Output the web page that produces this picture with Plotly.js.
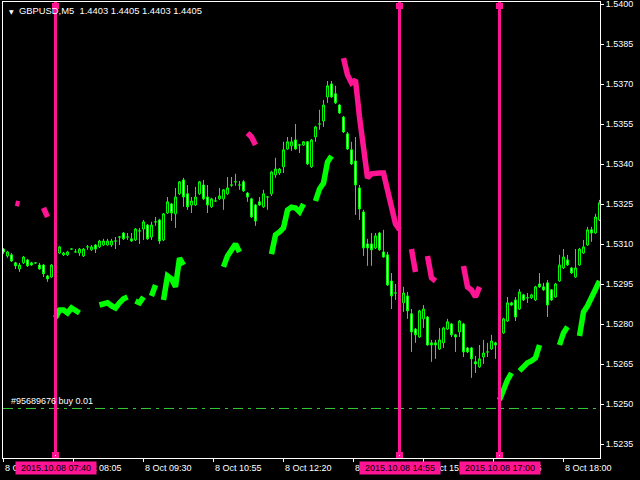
<!DOCTYPE html>
<html>
<head>
<meta charset="utf-8">
<script src="https://cdn.plot.ly/plotly-3.0.1.min.js"></script>
<style>html,body{margin:0;padding:0;background:#000;}#chart{width:640px;height:480px;}</style>
</head>
<body>
<div id="chart"></div>
<script>
// ---- GBPUSD M5, 8 Oct 2015, bar-indexed (one bar = 5 minutes) ----
const openP = [1.53082,1.53056,1.53060,1.53030,1.53007,1.53030,1.53041,1.53030,1.53030,1.53022,
1.53022,1.52981,1.52977,1.53022,1.53067,1.53060,1.53060,1.53082,1.53071,1.53067,
1.53056,1.53090,1.53079,1.53097,1.53090,1.53097,1.53097,1.53097,1.53112,1.53127,
1.53142,1.53127,1.53120,1.53116,1.53150,1.53157,1.53172,1.53127,1.53184,1.53191,
1.53116,1.53217,1.53251,1.53214,1.53289,1.53341,1.53289,1.53247,1.53247,1.53289,
1.53322,1.53277,1.53240,1.53262,1.53270,1.53270,1.53289,1.53322,1.53334,1.53322,
1.53334,1.53292,1.53270,1.53247,1.53259,1.53240,1.53277,1.53289,1.53360,1.53367,
1.53390,1.53457,1.53469,1.53491,1.53472,1.53472,1.53484,1.53390,1.53502,1.53551,
1.53562,1.53652,1.53701,1.53664,1.53622,1.53577,1.53514,1.53454,1.53412,1.53311,
1.53221,1.53101,1.53101,1.53086,1.53142,1.53071,1.53060,1.52962,1.52917,1.52917,
1.52880,1.52906,1.52839,1.52782,1.52752,1.52820,1.52827,1.52730,1.52730,1.52707,
1.52730,1.52782,1.52801,1.52760,1.52771,1.52801,1.52711,1.52711,1.52659,1.52640,
1.52677,1.52696,1.52707,1.52730,1.52722,1.52767,1.52812,1.52880,1.52891,1.52857,
1.52910,1.52899,1.52899,1.52891,1.52951,1.52940,1.52955,1.52929,1.52902,1.52962,
1.53011,1.53041,1.53011,1.52977,1.53022,1.53067,1.53097,1.53154,1.53142,1.53191];
const highP = [1.53086,1.53075,1.53067,1.53034,1.53030,1.53056,1.53045,1.53034,1.53031,1.53030,
1.53026,1.52985,1.53026,1.53086,1.53094,1.53071,1.53075,1.53083,1.53082,1.53086,
1.53086,1.53097,1.53097,1.53101,1.53116,1.53120,1.53120,1.53120,1.53127,1.53131,
1.53146,1.53142,1.53142,1.53161,1.53161,1.53191,1.53176,1.53184,1.53202,1.53195,
1.53217,1.53277,1.53255,1.53311,1.53337,1.53349,1.53322,1.53277,1.53315,1.53337,
1.53341,1.53322,1.53274,1.53277,1.53311,1.53307,1.53352,1.53352,1.53364,1.53337,
1.53341,1.53296,1.53274,1.53251,1.53277,1.53304,1.53281,1.53375,1.53424,1.53386,
1.53484,1.53502,1.53502,1.53551,1.53476,1.53487,1.53487,1.53495,1.53544,1.53604,
1.53641,1.53712,1.53712,1.53694,1.53626,1.53581,1.53521,1.53484,1.53502,1.53322,
1.53229,1.53120,1.53142,1.53142,1.53146,1.53154,1.53071,1.52992,1.52951,1.52936,
1.52940,1.52921,1.52857,1.52786,1.52854,1.52872,1.52831,1.52741,1.52741,1.52786,
1.52790,1.52820,1.52805,1.52764,1.52816,1.52805,1.52715,1.52715,1.52681,1.52722,
1.52741,1.52730,1.52760,1.52734,1.52786,1.52824,1.52902,1.52884,1.52902,1.52932,
1.52914,1.52917,1.52914,1.52944,1.52992,1.52955,1.52966,1.52932,1.52955,1.53060,
1.53082,1.53060,1.53015,1.53082,1.53086,1.53116,1.53165,1.53165,1.53214,1.53266];
const lowP = [1.53064,1.53049,1.53034,1.53007,1.52996,1.53026,1.53015,1.53019,1.53026,1.53005,
1.52977,1.52959,1.52974,1.53019,1.53064,1.53056,1.53056,1.53079,1.53070,1.53056,
1.53052,1.53079,1.53075,1.53067,1.53086,1.53094,1.53095,1.53090,1.53082,1.53097,
1.53116,1.53116,1.53109,1.53112,1.53101,1.53116,1.53116,1.53116,1.53169,1.53101,
1.53112,1.53214,1.53187,1.53161,1.53285,1.53240,1.53229,1.53217,1.53244,1.53285,
1.53266,1.53217,1.53236,1.53259,1.53266,1.53229,1.53285,1.53315,1.53319,1.53304,
1.53296,1.53259,1.53199,1.53169,1.53244,1.53236,1.53229,1.53281,1.53349,1.53360,
1.53367,1.53454,1.53450,1.53454,1.53442,1.53469,1.53397,1.53386,1.53484,1.53529,
1.53540,1.53630,1.53649,1.53626,1.53589,1.53517,1.53454,1.53397,1.53210,1.53191,
1.53056,1.53019,1.53019,1.53082,1.53075,1.53049,1.52944,1.52857,1.52891,1.52884,
1.52846,1.52820,1.52696,1.52730,1.52749,1.52786,1.52719,1.52659,1.52670,1.52704,
1.52711,1.52779,1.52752,1.52696,1.52752,1.52677,1.52692,1.52599,1.52617,1.52636,
1.52651,1.52677,1.52704,1.52670,1.52715,1.52764,1.52809,1.52869,1.52812,1.52854,
1.52887,1.52880,1.52895,1.52887,1.52936,1.52925,1.52827,1.52887,1.52899,1.52959,
1.53007,1.53019,1.52989,1.52974,1.53019,1.53064,1.53094,1.53109,1.53139,1.53187];
const closeP = [1.53071,1.53071,1.53037,1.53019,1.53022,1.53052,1.53019,1.53022,1.53030,1.53007,
1.52989,1.52970,1.53022,1.53079,1.53090,1.53067,1.53071,1.53082,1.53071,1.53082,
1.53082,1.53090,1.53090,1.53082,1.53112,1.53112,1.53112,1.53112,1.53112,1.53127,
1.53120,1.53127,1.53112,1.53157,1.53150,1.53184,1.53120,1.53172,1.53184,1.53112,
1.53214,1.53259,1.53217,1.53277,1.53334,1.53277,1.53240,1.53262,1.53277,1.53334,
1.53270,1.53247,1.53270,1.53262,1.53281,1.53304,1.53311,1.53322,1.53334,1.53322,
1.53300,1.53277,1.53202,1.53187,1.53247,1.53289,1.53277,1.53371,1.53382,1.53382,
1.53454,1.53484,1.53484,1.53457,1.53472,1.53484,1.53401,1.53491,1.53540,1.53551,
1.53622,1.53694,1.53652,1.53630,1.53592,1.53521,1.53457,1.53401,1.53322,1.53232,
1.53086,1.53086,1.53079,1.53131,1.53079,1.53052,1.52947,1.52906,1.52917,1.52899,
1.52917,1.52850,1.52771,1.52760,1.52850,1.52857,1.52722,1.52722,1.52722,1.52741,
1.52786,1.52809,1.52760,1.52752,1.52812,1.52696,1.52696,1.52670,1.52651,1.52670,
1.52692,1.52696,1.52737,1.52722,1.52779,1.52820,1.52880,1.52872,1.52827,1.52921,
1.52891,1.52899,1.52910,1.52940,1.52940,1.52929,1.52872,1.52891,1.52951,1.53022,
1.53052,1.53022,1.52992,1.53011,1.53082,1.53090,1.53154,1.53142,1.53202,1.53255];

// indicator buffers (gaps = null)
const greenBars = [13,14,15,16,17,18,19,null,24,25,26,27,28,29,30,31,null,33,34,35,null,37,38,null,
40,41,42,43,44,45,null,55,56,57,58,59,null,67,68,69,70,71,72,73,74,75,null,78,79,80,81,82,null,
124,125,126,127,null,129,130,131,132,133,134,null,139,140,141,null,144,145,146,147,148,149];
const greenVals = [1.52824,1.52853,1.52853,1.52842,1.52861,1.52853,1.52842,null,
1.52872,1.52876,1.52880,1.52869,1.52861,1.52880,1.52895,1.52902,null,
1.52887,1.52880,1.52902,null,1.52906,1.52947,null,
1.52891,1.52981,1.52970,1.52940,1.53048,1.53022,null,
1.53015,1.53056,1.53078,1.53101,1.53071,null,
1.53063,1.53135,1.53146,1.53161,1.53228,1.53239,1.53236,1.53221,1.53251,null,
1.53262,1.53307,1.53329,1.53408,1.53431,null,
1.52516,1.52557,1.52591,1.52617,null,
1.52625,1.52640,1.52655,1.52662,1.52674,1.52722,null,
1.52722,1.52767,1.52790,null,
1.52756,1.52846,1.52869,1.52899,1.52932,1.52962];
const pinkBars = [3,4,null,10,11,null,61,62,63,null,
85,86,87,88,89,90,91,92,93,94,95,96,97,98,99,null,102,103,null,106,107,108,null,115,116,117,118,119];
const pinkVals = [1.53254,1.53251,null,1.53236,1.53202,null,1.53517,1.53502,1.53472,null,
1.53798,1.53735,1.53705,1.53716,1.53577,1.53446,1.53349,1.53364,1.53367,1.53367,1.53367,1.53304,1.53228,1.53176,1.53154,null,
1.53082,1.52996,null,1.53056,1.52974,1.52962,null,
1.53018,1.52940,1.52928,1.52902,1.52940];

// objects on chart
const eventBars = [13, 99, 124];
const eventLabels = ['2015.10.08 07:40', '2015.10.08 14:55', '2015.10.08 17:00'];
const orderLevel = 1.52484;
const orderLabel = '#95689676 buy 0.01';

// axes
const timeTickBars = [0, 17.5, 35, 52.5, 70, 87.5, 105, 122.5, 140];
const timeTickLabels = ['8 Oct 06:35','8 Oct 08:05','8 Oct 09:30','8 Oct 10:55','8 Oct 12:20',
                        '8 Oct 13:45','8 Oct 15:10','8 Oct 16:35','8 Oct 18:00'];
const priceTicks = [1.5235,1.5250,1.5265,1.5280,1.5295,1.5310,1.5325,1.5340,1.5355,1.5370,1.5385,1.5400];
const priceTickLabels = ['1.5235','1.5250','1.5265','1.5280','1.5295','1.5310','1.5325','1.5340','1.5355','1.5370','1.5385','1.5400'];
const chartTitle = 'GBPUSD,M5  1.4403 1.4405 1.4403 1.4405';

const bars = openP.map((_, i) => i);
const FONT = 'Liberation Sans, Arial, sans-serif';
const LIME = '#00ff00';
const PINK = '#ff1493';

const traces = [
  {
    type: 'candlestick', x: bars, open: openP, high: highP, low: lowP, close: closeP,
    increasing: {line: {color: LIME, width: 1}, fillcolor: '#000000'},
    decreasing: {line: {color: LIME, width: 1}, fillcolor: '#ffffff'},
    whiskerwidth: 0, hoverinfo: 'skip'
  },
  {type: 'scatter', mode: 'lines', x: greenBars, y: greenVals, connectgaps: false,
   line: {color: LIME, width: 5.5}, hoverinfo: 'skip'},
  {type: 'scatter', mode: 'lines', x: pinkBars, y: pinkVals, connectgaps: false,
   line: {color: PINK, width: 5.5}, hoverinfo: 'skip'}
];

const shapes = [{
  type: 'line', xref: 'paper', x0: 0, x1: 1, yref: 'y', y0: orderLevel, y1: orderLevel,
  line: {color: '#32cd32', width: 1, dash: '10px,5px,3px,5px'}, layer: 'above'
}];
eventBars.forEach(b => {
  shapes.push({type: 'line', xref: 'x', x0: b, x1: b, yref: 'paper', y0: 0, y1: 1,
               line: {color: PINK, width: 3}, layer: 'above'});
  shapes.push({type: 'rect', xref: 'x', xsizemode: 'pixel', xanchor: b, x0: -3.5, x1: 3.5,
               yref: 'paper', ysizemode: 'pixel', yanchor: 1, y0: -7, y1: -1,
               fillcolor: PINK, line: {width: 0}, layer: 'above'});
  shapes.push({type: 'rect', xref: 'x', xsizemode: 'pixel', xanchor: b, x0: -3.5, x1: 3.5,
               yref: 'paper', ysizemode: 'pixel', yanchor: 0, y0: 0, y1: 6,
               fillcolor: PINK, line: {width: 0}, layer: 'above'});
  shapes.push({type: 'rect', xref: 'x', xsizemode: 'pixel', xanchor: b, x0: -0.5, x1: 0.5,
               yref: 'paper', ysizemode: 'pixel', yanchor: 0, y0: 2, y1: 3,
               fillcolor: '#ffffff', line: {width: 0}, layer: 'above'});
});

const annotations = [];
timeTickBars.forEach((b, i) => {
  annotations.push({xref: 'x', x: b, yref: 'paper', y: 0, yshift: -10, xshift: -1,
    xanchor: 'left', yanchor: 'middle', showarrow: false, text: timeTickLabels[i],
    font: {family: FONT, size: 9, color: '#ffffff'}});
});
eventBars.forEach((b, i) => {
  annotations.push({xref: 'x', x: b, yref: 'paper', y: 0, yshift: -10,
    xanchor: 'center', yanchor: 'middle', showarrow: false, text: eventLabels[i],
    bgcolor: PINK, width: 80, height: 12, borderpad: 0,
    font: {family: FONT, size: 9, color: '#000000'}});
});
annotations.push({xref: 'paper', x: 0.01, yref: 'y', y: orderLevel, yshift: 7,
  xanchor: 'left', yanchor: 'middle', showarrow: false, text: orderLabel,
  font: {family: FONT, size: 9, color: '#ffffff'}});
annotations.push({xref: 'paper', x: 0.007, yref: 'paper', y: 1, yshift: -9,
  xanchor: 'left', yanchor: 'middle', showarrow: false, text: '▼',
  font: {family: 'DejaVu Sans', size: 6, color: '#ffffff'}});

const layout = {
  width: 640, height: 480,
  paper_bgcolor: '#000000', plot_bgcolor: '#000000',
  margin: {l: 3, r: 40, t: 2, b: 22, pad: 0},
  showlegend: false,
  title: {text: chartTitle, xref: 'container', x: 19/640, xanchor: 'left',
          yref: 'container', y: 1 - 11/480, yanchor: 'middle',
          font: {family: FONT, size: 9.4, color: '#ffffff'}},
  xaxis: {range: [-0.125, 149.125], showgrid: false, zeroline: false,
          showline: true, linecolor: '#ffffff', linewidth: 1, mirror: true,
          ticks: 'outside', ticklen: 3, tickcolor: '#ffffff', tickmode: 'array',
          tickvals: timeTickBars, showticklabels: false,
          rangeslider: {visible: false}, fixedrange: true},
  yaxis: {side: 'right', range: [1.5229825, 1.5400825], showgrid: false, zeroline: false,
          showline: true, linecolor: '#ffffff', linewidth: 1, mirror: true,
          ticks: 'outside', ticklen: 3, tickcolor: '#ffffff', tickmode: 'array',
          tickvals: priceTicks, ticktext: priceTickLabels, ticklabeloverflow: 'allow',
          tickfont: {family: FONT, size: 9, color: '#ffffff'}, fixedrange: true},
  shapes: shapes,
  annotations: annotations,
  boxgap: 0.3
};

Plotly.newPlot('chart', traces, layout, {staticPlot: true, displayModeBar: false});
</script>
</body>
</html>
